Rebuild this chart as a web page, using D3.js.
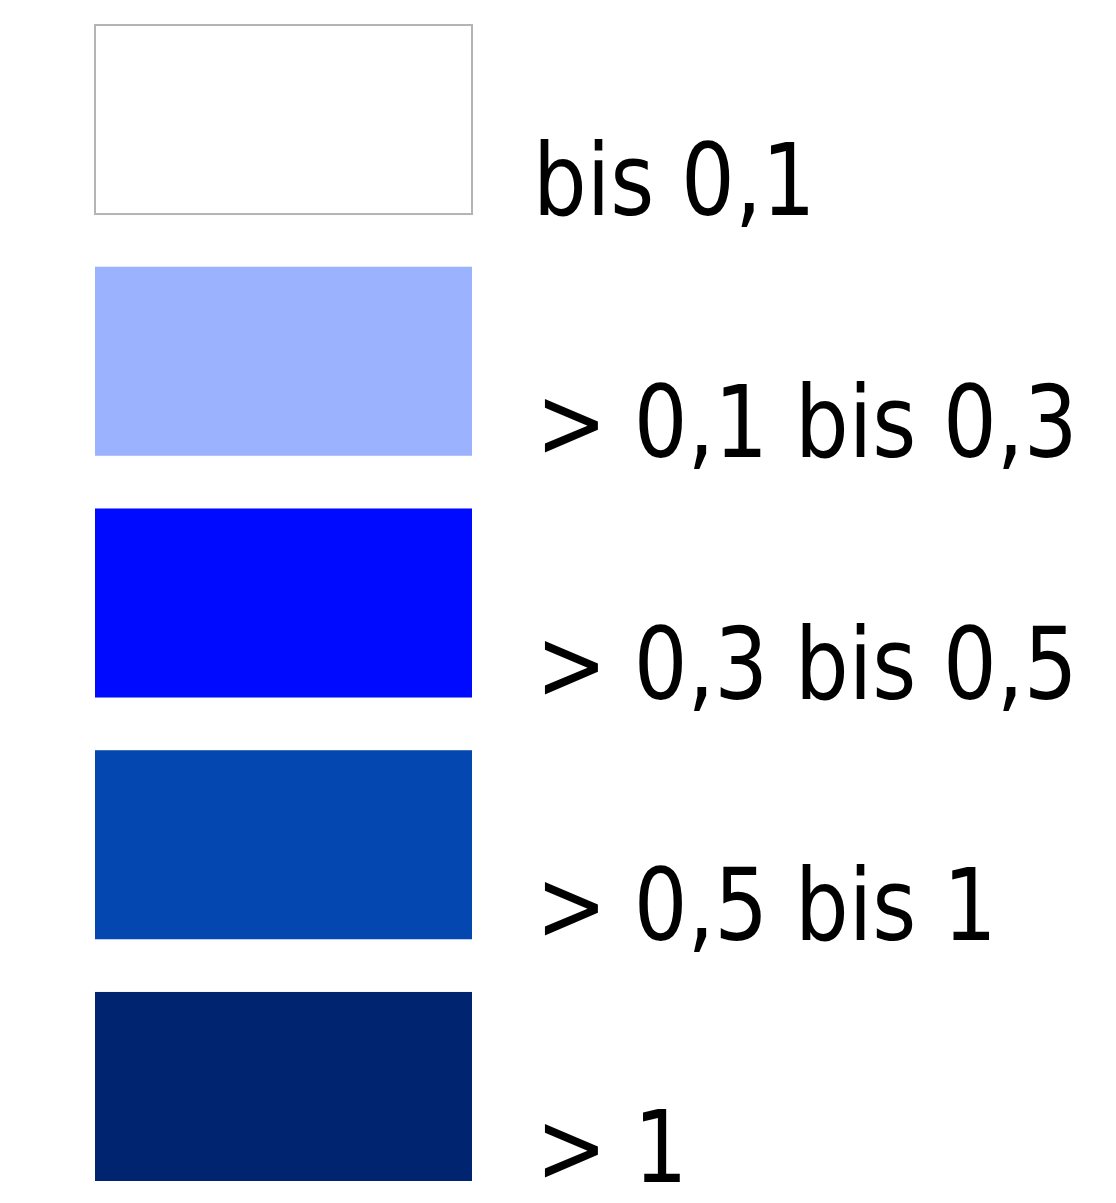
<!DOCTYPE html>
<html>
<head>
<meta charset="utf-8">
<script src="https://cdn.jsdelivr.net/npm/d3@7"></script>
<style>
  body { margin: 0; background: #fff; }
</style>
</head>
<body>
<div id="legend"></div>
<script>
// Legend classes, top to bottom
const classLabels = ['bis 0,1', '> 0,1 bis 0,3', '> 0,3 bis 0,5', '> 0,5 bis 1', '> 1'];
const classColors = ['#ffffff', '#9bb2ff', '#000aff', '#0447b1', '#002470'];

const width = 1116, height = 1203;

const svg = d3.select('#legend')
  .append('svg')
  .attr('width', width)
  .attr('height', height);

// vertical slots for the swatches
const y = d3.scaleBand()
  .domain(classLabels)
  .range([25, 1181])
  .paddingInner(0.218)
  .paddingOuter(0);

const rows = svg.selectAll('g.row')
  .data(classLabels)
  .join('g')
  .attr('class', 'row')
  .attr('transform', d => `translate(0,${y(d)})`);

rows.append('rect')
  .attr('x', 95)
  .attr('y', 0)
  .attr('width', 377)
  .attr('height', y.bandwidth())
  .attr('fill', (d, i) => classColors[i])
  .attr('stroke', (d, i) => i === 0 ? '#b4b4b4' : 'none')
  .attr('stroke-width', 2);

// text is a bit narrower than DejaVu, so squeeze horizontally
rows.append('text')
  .attr('transform', d => `translate(${d.startsWith('>') ? 536 : 533},${y.bandwidth() + 1}) scale(0.94,1)`)
  .style('font-family', '"DejaVu Sans Condensed", "DejaVu Sans", sans-serif')
  .style('font-size', '100px')
  .attr('fill', '#000')
  .text(d => d);
</script>
</body>
</html>
